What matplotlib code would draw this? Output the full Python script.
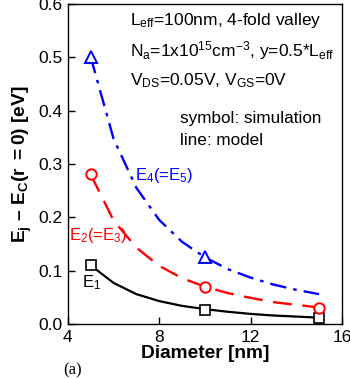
import numpy as np
import matplotlib
matplotlib.use("Agg")
import matplotlib.pyplot as plt

plt.rcParams['font.family'] = ['Liberation Sans', 'DejaVu Sans']
plt.rcParams['mathtext.fontset'] = 'custom'
plt.rcParams['mathtext.rm'] = 'Liberation Sans'
plt.rcParams['mathtext.it'] = 'Liberation Sans:italic'
plt.rcParams['mathtext.bf'] = 'Liberation Sans:bold'
plt.rcParams['mathtext.default'] = 'regular'

# simulation points
d_sim = [5, 10, 15]
e1_sim = [0.110, 0.027, 0.012]
e2_sim = [0.281, 0.070, 0.030]
d_sim_e4 = [5, 10]
e4_sim = [0.500, 0.125]

# model curves
d_model = [5, 6, 7, 8, 9, 10, 11, 12, 13, 14, 15]
e1_model = [0.110, 0.077, 0.056, 0.043, 0.034, 0.028, 0.023, 0.019, 0.016, 0.014, 0.012]
e2_model = [0.280, 0.194, 0.143, 0.109, 0.086, 0.070, 0.058, 0.049, 0.041, 0.036, 0.031]
e4_model = [0.500, 0.347, 0.255, 0.195, 0.154, 0.125, 0.103, 0.087, 0.074, 0.064, 0.056]

fig = plt.figure(figsize=(3.5, 3.79), dpi=100)
ax = fig.add_axes([0.194, 0.145, 0.783, 0.845])

ax.plot(d_model, e1_model, color='black', lw=1.6)
ax.plot(d_model, e2_model, color='red', lw=1.7, dashes=(8, 4.5))
ax.plot(d_model, e4_model, color='blue', lw=1.7, dashes=(7, 3, 1.5, 3))

ax.plot(d_sim, e1_sim, 's', mfc='white', mec='black', ms=7, mew=1.2)
ax.plot(d_sim, e2_sim, 'o', mfc='white', mec='red', ms=7.5, mew=1.4)
ax.plot(d_sim_e4, e4_sim, '^', mfc='white', mec='blue', ms=8, mew=1.4)

ax.set_xlim(4, 16)
ax.set_ylim(0, 0.6)
ax.set_xticks([4, 8, 12, 16])
ax.set_yticks([0.0, 0.1, 0.2, 0.3, 0.4, 0.5, 0.6])
ax.set_yticklabels(['0.0', '0.1', '0.2', '0.3', '0.4', '0.5', '0.6'])
ax.tick_params(direction='in', labelsize=12.5, length=5, width=1, pad=4)
for s in ax.spines.values():
    s.set_linewidth(1)

ax.set_xlabel('Diameter [nm]', fontsize=13.8, fontweight='bold', labelpad=0)
ax.set_ylabel(r'$\mathbf{E_j}$ – $\mathbf{E_C(r\ =0)}$ [eV]', fontsize=13.8,
              fontweight='bold', labelpad=3)

ax.text(6.72, 0.568, r'L$_{eff}$=100nm, 4-fold valley', fontsize=12.5, va='center')
ax.text(6.72, 0.512, r'N$_a$=1x10$^{15}$cm$^{-3}$, y=0.5*L$_{eff}$', fontsize=12.5, va='center')
ax.text(6.72, 0.456, r'V$_{DS}$=0.05V, V$_{GS}$=0V', fontsize=12.5, va='center')
ax.text(8.91, 0.385, 'symbol: simulation', fontsize=12.3, va='center')
ax.text(8.91, 0.344, 'line: model', fontsize=12.3, va='center')

ax.text(6.94, 0.279, r'E$_4$(=E$_5$)', fontsize=12, va='center', color='blue')
ax.text(4.04, 0.166, r'E$_2$(=E$_3$)', fontsize=12, va='center', color='red')
ax.text(4.6, 0.077, r'E$_1$', fontsize=12, va='center', color='black')

fig.text(0.18, 0.024, '(a)', fontsize=12, family='Liberation Serif', va='center')

fig.savefig('out.png', dpi=100)
